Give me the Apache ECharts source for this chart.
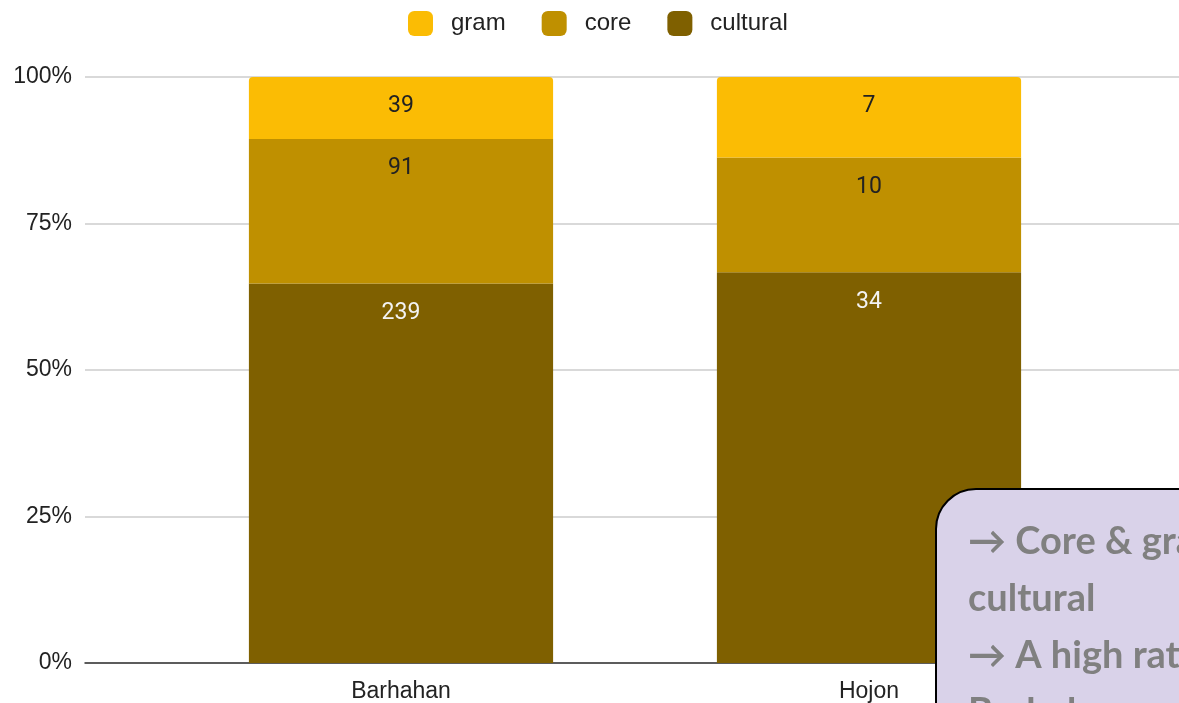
<!DOCTYPE html>
<html>
<head>
<meta charset="utf-8">
<script src="https://cdn.jsdelivr.net/npm/echarts@6/dist/echarts.min.js"></script>
<style>
html,body{margin:0;padding:0;background:#fff;}
#chart{width:1179px;height:703px;}
</style>
</head>
<body>
<div id="chart"></div>
<script>
const categories = ['Barhahan', 'Hojon'];
const gram = [39, 7];
const core = [91, 10];
const cultural = [239, 34];
const yTicks = [0, 25, 50, 75, 100];

const totals = categories.map((c, i) => gram[i] + core[i] + cultural[i]);
const pct = (arr) => arr.map((v, i) => ({ value: v / totals[i] * 100, raw: v }));

const chart = echarts.init(document.getElementById('chart'));
const labelFont = 'Roboto, "Liberation Sans", sans-serif';
const axisFont = '"Liberation Sans", Arial, sans-serif';

function mkSeries(name, arr, color, labelColor, radius) {
  return {
    name: name,
    type: 'bar',
    stack: 'total',
    xAxisIndex: 1,
    yAxisIndex: 1,
    barWidth: '65%',
    data: pct(arr),
    itemStyle: { color: color, borderRadius: radius },
    label: {
      show: true,
      position: 'insideTop',
      distance: 18,
      formatter: (p) => String(p.data.raw),
      color: labelColor,
      fontSize: 23,
      fontFamily: labelFont
    }
  };
}

chart.setOption({
  animation: false,
  backgroundColor: '#ffffff',
  legend: {
    top: 6,
    left: 403,
    data: ['gram', 'core', 'cultural'],
    icon: 'roundRect',
    itemWidth: 25,
    itemHeight: 25,
    itemGap: 36,
    textStyle: { fontSize: 24, color: '#222', fontFamily: axisFont, padding: [0, 0, 0, 13] }
  },
  grid: [
    { left: 85, right: 0, top: 77, bottom: 40 },
    { left: 167, width: 936, top: 77, bottom: 40 }
  ],
  xAxis: [
    {
      type: 'value', gridIndex: 0, min: 0, max: 1,
      axisLine: { show: true, lineStyle: { color: '#333', width: 1.5 } },
      axisTick: { show: false }, axisLabel: { show: false }, splitLine: { show: false }
    },
    {
      type: 'category', gridIndex: 1, data: categories,
      axisLine: { show: false }, axisTick: { show: false },
      axisLabel: { fontSize: 23, color: '#222', fontFamily: axisFont, margin: 17 }
    }
  ],
  yAxis: [
    {
      type: 'value', gridIndex: 0, min: 0, max: 100, interval: 25,
      axisLine: { show: false }, axisTick: { show: false },
      axisLabel: { formatter: '{value}%', fontSize: 23, color: '#222', fontFamily: axisFont, margin: 13 },
      splitLine: { show: true, lineStyle: { color: '#cccccc', width: 1.5 } }
    },
    {
      type: 'value', gridIndex: 1, min: 0, max: 100, interval: 25, show: false,
      splitLine: { show: false }
    }
  ],
  series: [
    mkSeries('cultural', cultural, '#7f6000', '#f3f3f3', 0),
    mkSeries('core', core, '#bf9000', '#222', 0),
    mkSeries('gram', gram, '#fbbc04', '#222', [4, 4, 0, 0])
  ],
  graphic: [
    {
      type: 'rect', z: 100,
      shape: { x: 936, y: 489, width: 400, height: 300, r: 40 },
      style: { fill: '#d9d2e9', stroke: '#000', lineWidth: 2 }
    },
    {
      type: 'text', z: 101, left: 968, top: 513,
      style: {
        text: '→ Core & gram <\ncultural\n→ A high ratio of\nBarhahan',
        fill: '#808080',
        font: 'bold 38px Lato, "Open Sans", sans-serif',
        lineHeight: 57
      }
    }
  ]
});
</script>
</body>
</html>
